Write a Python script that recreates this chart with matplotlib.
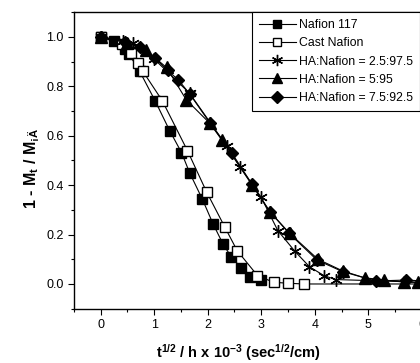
import numpy as np
import matplotlib
matplotlib.use('Agg')
import matplotlib.pyplot as plt
from matplotlib.ticker import MultipleLocator

plt.rcParams['font.family'] = ['Liberation Sans', 'DejaVu Sans']
plt.rcParams['mathtext.default'] = 'regular'

# data
x_n117 = [0, 0.25, 0.45, 0.53, 0.73, 1.02, 1.29, 1.51, 1.66, 1.90, 2.10, 2.29, 2.44, 2.63, 2.79, 3.00]
y_n117 = [1.0, 0.985, 0.95, 0.93, 0.86, 0.74, 0.62, 0.532, 0.451, 0.343, 0.243, 0.16, 0.11, 0.064, 0.03, 0.015]

x_cast = [0, 0.39, 0.57, 0.70, 0.79, 1.15, 1.62, 1.98, 2.32, 2.55, 2.93, 3.23, 3.50, 3.79, 6.3]
y_cast = [1.0, 0.97, 0.935, 0.894, 0.86, 0.742, 0.54, 0.372, 0.23, 0.135, 0.034, 0.007, 0.003, 0.0, 0.0]

x_ha25 = [0, 0.42, 0.60, 1.00, 1.66, 2.36, 2.60, 3.00, 3.31, 3.63, 3.90, 4.17, 4.39, 6.3]
y_ha25 = [1.0, 0.985, 0.975, 0.91, 0.772, 0.557, 0.475, 0.35, 0.216, 0.132, 0.07, 0.034, 0.018, 0.005]

x_ha5 = [0, 0.50, 0.85, 1.23, 1.60, 2.04, 2.26, 2.83, 3.16, 3.53, 4.06, 4.52, 4.93, 5.30, 5.66, 5.93]
y_ha5 = [1.0, 0.975, 0.945, 0.876, 0.745, 0.65, 0.584, 0.40, 0.293, 0.205, 0.10, 0.053, 0.025, 0.016, 0.008, 0.006]

x_ha75 = [0, 0.45, 0.73, 1.01, 1.25, 1.45, 1.66, 2.04, 2.45, 2.83, 3.17, 3.52, 4.04, 4.52, 5.14, 5.71, 6.2]
y_ha75 = [1.0, 0.98, 0.958, 0.915, 0.864, 0.826, 0.77, 0.652, 0.53, 0.403, 0.29, 0.205, 0.097, 0.05, 0.012, 0.016, 0.01]

labels = ['Nafion 117', 'Cast Nafion', 'HA:Nafion = 2.5:97.5', 'HA:Nafion = 5:95', 'HA:Nafion = 7.5:92.5']

fig = plt.figure(figsize=(4.2, 3.63), dpi=100)
ax = fig.add_axes([0.176, 0.1496, 0.892, 0.817])

kw = dict(color='black', lw=0.8, ms=7)
ax.plot(x_n117, y_n117, marker='s', mfc='black', mec='black', label=labels[0], **kw)
ax.plot(x_cast, y_cast, marker='s', mfc='white', mec='black', label=labels[1], **kw)
ax.plot(x_ha25, y_ha25, marker=(6, 2, 0), mec='black', mew=1.0, label=labels[2], color='black', lw=0.8, ms=9)
ax.plot(x_ha5, y_ha5, marker='^', mfc='black', mec='black', label=labels[3], color='black', lw=0.8, ms=8)
ax.plot(x_ha75, y_ha75, marker='D', mfc='black', mec='black', label=labels[4], color='black', lw=0.8, ms=6.5)

ax.set_xlim(-0.5, 6.5)
ax.set_ylim(-0.1, 1.1)
ax.xaxis.set_major_locator(MultipleLocator(1))
ax.xaxis.set_minor_locator(MultipleLocator(0.5))
ax.yaxis.set_major_locator(MultipleLocator(0.2))
ax.yaxis.set_minor_locator(MultipleLocator(0.1))
ax.yaxis.set_major_formatter(matplotlib.ticker.FormatStrFormatter('%.1f'))
ax.tick_params(which='major', direction='out', length=4, width=0.8, labelsize=9)
ax.tick_params(which='minor', direction='out', length=2.5, width=0.8)
for s in ax.spines.values():
    s.set_linewidth(1.0)

leg = ax.legend(loc='upper right', bbox_to_anchor=(1.0, 1 - 12 / 363), bbox_transform=fig.transFigure,
                borderaxespad=0, fontsize=8.8, fancybox=False, edgecolor='black', framealpha=1,
                handlelength=3.0, handletextpad=0.25, labelspacing=0.5, borderpad=0.6,
                markerscale=0.9)
leg.get_frame().set_linewidth(0.8)

fig.text(238 / 420, 10 / 363, r't$^{1/2}$ / h x 10$^{-3}$ (sec$^{1/2}$/cm)', ha='center', va='center',
         fontsize=10.5, fontweight='bold')
fig.text(32 / 420, 1 - 168 / 363, r'1 - M$_{t}$ / M$_{¡Ä}$', ha='center', va='center', rotation=90,
         fontsize=11.5, fontweight='bold')

fig.savefig('out.png', dpi=100)
